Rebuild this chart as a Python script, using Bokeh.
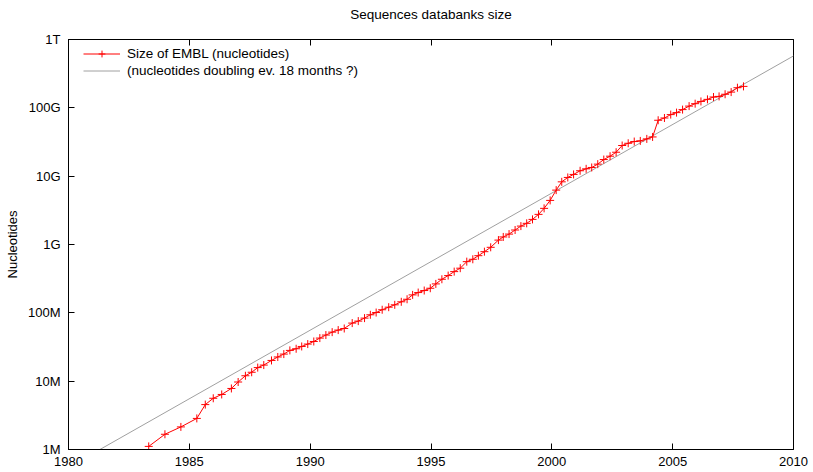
from bokeh.plotting import figure
from bokeh.models import FixedTicker, LinearAxis, Legend, LegendItem
from bokeh.embed import file_html
from bokeh.resources import INLINE

# ---- data ----
years = [1983.32, 1983.99, 1984.65, 1985.31, 1985.66, 1985.99, 1986.34, 1986.74,
         1987.02, 1987.32, 1987.58, 1987.83, 1988.08, 1988.40, 1988.66, 1988.91,
         1989.16, 1989.42, 1989.65, 1989.90, 1990.15, 1990.40, 1990.65, 1990.91,
         1991.16, 1991.41, 1991.74, 1991.99, 1992.25, 1992.49, 1992.73, 1992.98,
         1993.25, 1993.50, 1993.77, 1994.01, 1994.24, 1994.47, 1994.72, 1994.97,
         1995.20, 1995.45, 1995.71, 1995.96, 1996.21, 1996.48, 1996.73, 1996.96,
         1997.21, 1997.47, 1997.79, 1997.99, 1998.23, 1998.48, 1998.72, 1998.96,
         1999.20, 1999.45, 1999.68, 1999.93, 2000.18, 2000.41, 2000.66, 2000.90,
         2001.17, 2001.42, 2001.65, 2001.90, 2002.15, 2002.41, 2002.66, 2002.91,
         2003.16, 2003.41, 2003.66, 2003.93, 2004.17, 2004.40, 2004.66, 2004.92,
         2005.16, 2005.41, 2005.68, 2005.93, 2006.17, 2006.44, 2006.69, 2006.92,
         2007.17, 2007.42, 2007.68, 2007.93]

nucleotides = [1.11e6, 1.67e6, 2.14e6, 2.85e6, 4.54e6, 5.62e6, 6.39e6, 7.82e6,
               9.72e6, 1.20e7, 1.35e7, 1.58e7, 1.72e7, 2.01e7, 2.26e7, 2.49e7,
               2.82e7, 2.98e7, 3.22e7, 3.49e7, 3.81e7, 4.27e7, 4.73e7, 5.22e7,
               5.59e7, 5.90e7, 7.08e7, 7.57e7, 8.37e7, 9.36e7, 1.01e8, 1.11e8,
               1.21e8, 1.31e8, 1.45e8, 1.58e8, 1.83e8, 1.98e8, 2.12e8, 2.29e8,
               2.65e8, 3.10e8, 3.51e8, 4.01e8, 4.50e8, 5.61e8, 6.08e8, 6.86e8,
               7.85e8, 9.10e8, 1.16e9, 1.29e9, 1.42e9, 1.63e9, 1.86e9, 2.04e9,
               2.33e9, 2.76e9, 3.38e9, 4.42e9, 6.25e9, 8.26e9, 9.58e9, 1.06e10,
               1.20e10, 1.28e10, 1.34e10, 1.50e10, 1.75e10, 1.96e10, 2.24e10, 2.81e10,
               3.03e10, 3.21e10, 3.28e10, 3.51e10, 3.75e10, 6.58e10, 7.10e10, 7.96e10,
               8.51e10, 9.42e10, 1.06e11, 1.15e11, 1.24e11, 1.33e11, 1.44e11, 1.47e11,
               1.58e11, 1.70e11, 1.97e11, 2.06e11]

doubling_years = [1981.3, 2010.0]
doubling_values = [1.0e6, 5.75e11]

x_ticks = [1980, 1985, 1990, 1995, 2000, 2005, 2010]
y_ticks = [1e6, 1e7, 1e8, 1e9, 1e10, 1e11, 1e12]
y_tick_labels = ["1M", "10M", "100M", "1G", "10G", "100G", "1T"]

title_text = "Sequences databanks size"
y_label = "Nucleotides"
series_label = "Size of EMBL (nucleotides)"
doubling_label = "(nucleotides doubling ev. 18 months ?)"

FONT = "Liberation Sans"

p = figure(width=813, height=472, x_range=(1980, 2010), y_range=(1e6, 1e12),
           y_axis_type="log", output_backend="svg", toolbar_location=None,
           min_border_left=68, min_border_right=20, min_border_top=39,
           min_border_bottom=23)

p.grid.visible = False
p.outline_line_color = "black"
p.outline_line_width = 1
p.background_fill_color = "white"
p.border_fill_color = "white"

# x axis
xa = p.xaxis[0]
xa.ticker = FixedTicker(ticks=x_ticks)
xa.minor_tick_line_color = None
xa.major_tick_in = 6
xa.major_tick_out = 0
xa.major_label_standoff = 7
xa.major_label_text_font = FONT
xa.major_label_text_font_size = "13px"
xa.major_label_text_color = "black"
xa.axis_line_color = "black"

# y axis
ya = p.yaxis[0]
ya.ticker = FixedTicker(ticks=y_ticks)
ya.major_label_overrides = {t: l for t, l in zip(y_ticks, y_tick_labels)}
ya.minor_tick_line_color = None
ya.major_tick_in = 6
ya.major_tick_out = 0
ya.major_label_standoff = 8
ya.major_label_text_font = FONT
ya.major_label_text_font_size = "13px"
ya.major_label_text_color = "black"
ya.axis_line_color = "black"
ya.axis_label = y_label
ya.axis_label_text_font = FONT
ya.axis_label_text_font_size = "13px"
ya.axis_label_text_font_style = "normal"
ya.axis_label_text_color = "black"
ya.axis_label_standoff = 5

# mirrored top ticks; its axis label carries the chart title
top = LinearAxis(ticker=FixedTicker(ticks=x_ticks),
                 major_label_overrides={t: "" for t in x_ticks})
top.minor_tick_line_color = None
top.major_tick_in = 6
top.major_tick_out = 0
top.major_label_standoff = 0
top.axis_line_color = "black"
top.axis_label = title_text
top.axis_label_text_font = FONT
top.axis_label_text_font_size = "13.5px"
top.axis_label_text_font_style = "normal"
top.axis_label_text_color = "black"
top.axis_label_standoff = 18
p.add_layout(top, "above")

# doubling reference line
r_dbl = p.line(doubling_years, doubling_values, line_color="#a0a0a0", line_width=1)

# EMBL size series
r_line = p.line(years, nucleotides, line_color="red", line_width=1)
r_pts = p.scatter(years, nucleotides, marker="cross", size=8, line_color="red", line_width=1)

legend = Legend(items=[LegendItem(label=series_label, renderers=[r_line, r_pts]),
                       LegendItem(label=doubling_label, renderers=[r_dbl])],
                location=(15, 370))
legend.margin = 0
legend.padding = 0
legend.spacing = 0
legend.glyph_width = 37
legend.glyph_height = 17
legend.label_height = 17
legend.label_standoff = 7
legend.label_text_font = FONT
legend.label_text_font_size = "13.5px"
legend.label_text_color = "black"
legend.background_fill_alpha = 0
legend.border_line_alpha = 0
p.add_layout(legend, "center")

open("out.html", "w").write(file_html(p, INLINE))
